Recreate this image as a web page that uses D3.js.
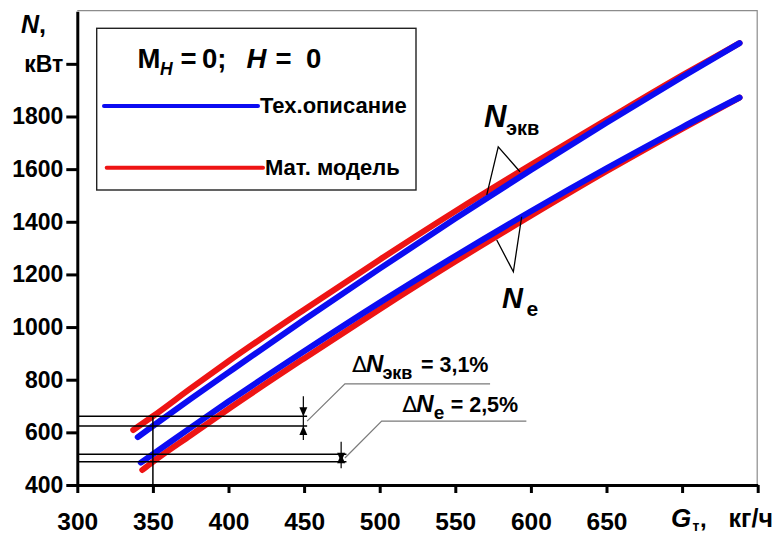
<!DOCTYPE html>
<html>
<head>
<meta charset="utf-8">
<script src="https://cdn.jsdelivr.net/npm/d3@7"></script>
<style>
  body { margin: 0; background: #fff; }
  svg { display: block; font-family: "Liberation Sans", Arial, sans-serif; font-weight: bold; }
</style>
</head>
<body>
<svg id="chart" width="774" height="533"></svg>
<script>
// Axis ticks and their labels
const xTicks = [300, 350, 400, 450, 500, 550, 600, 650, 700, 750];
const xTickLabels = ["300", "350", "400", "450", "500", "550", "600", "650", "", ""];
const yTicks = [400, 600, 800, 1000, 1200, 1400, 1600, 1800, 2000];
const yTickLabels = ["400", "600", "800", "1000", "1200", "1400", "1600", "1800", "кВт"];

// Power vs fuel flow: [G_т, кг/ч ; N, кВт]
const nEkvTech  = [[340, 582], [350, 624], [375, 727], [400, 828], [450, 1028], [500, 1222], [550, 1412], [600, 1597], [650, 1776], [700, 1950], [738, 2079]];
const nEkvModel = [[337, 609], [350, 661], [375, 767], [400, 870], [450, 1066], [500, 1256], [550, 1440], [600, 1616], [650, 1787], [700, 1956], [738, 2079]];
const nETech    = [[342, 485], [350, 517], [375, 618], [400, 717], [450, 908], [500, 1093], [550, 1270], [600, 1440], [650, 1603], [700, 1759], [738, 1872]];
const nEModel   = [[343, 457], [350, 488], [375, 589], [400, 689], [450, 881], [500, 1068], [550, 1249], [600, 1423], [650, 1592], [700, 1753], [738, 1872]];

const legendNames = ["Тех.описание", "Мат. модель"];
const seriesColors = ["#0c0cf2", "#ee1414"];

// Where the deviations are measured, and the stated deviations
const guideG = 350;
const errorTexts = [["экв", "= 3,1%"], ["e", "= 2,5%"]];

const svg = d3.select("#chart");
const x = d3.scaleLinear().domain([300, 750]).range([77.3, 757.7]);
const y = d3.scaleLinear().domain([400, 2200]).range([485, 11.2]);

// light frame on top and right
svg.append("path")
  .attr("d", `M${x(300)},${y(2200) - 0.5}H${x(750) - 0.5}V${y(400)}`)
  .attr("fill", "none").attr("stroke", "#8c8c8c").attr("stroke-width", 1.2);

// curves: model (red) under, description (blue) over
const line = d3.line().x(d => x(d[0])).y(d => y(d[1])).curve(d3.curveMonotoneX);
const curves = [
  { data: nEkvModel, color: seriesColors[1] },
  { data: nEModel, color: seriesColors[1] },
  { data: nEkvTech, color: seriesColors[0] },
  { data: nETech, color: seriesColors[0] }
];
svg.append("g").selectAll("path").data(curves).join("path")
  .attr("d", d => line(d.data))
  .attr("fill", "none")
  .attr("stroke", d => d.color)
  .attr("stroke-width", 6)
  .attr("stroke-linecap", "round")
  .attr("stroke-linejoin", "round");

// value of a series at the guide abscissa
const at = (s, g) => s.find(d => d[0] === g)[1];
const upper = [at(nEkvModel, guideG), at(nEkvTech, guideG)];
const lower = [at(nETech, guideG), at(nEModel, guideG)];

const ann = svg.append("g").attr("stroke", "#000").attr("fill", "none");
// horizontal guides
[[upper, 452], [lower, 478]].forEach(([lv, gEnd]) => {
  lv.forEach(v => {
    ann.append("line").attr("x1", x(300)).attr("x2", x(gEnd))
      .attr("y1", y(v)).attr("y2", y(v)).attr("stroke-width", 1.5);
  });
});
// vertical guide at G = 350
ann.append("line").attr("x1", x(guideG)).attr("x2", x(guideG))
  .attr("y1", y(upper[0])).attr("y2", y(400)).attr("stroke-width", 1.5);

// dimension arrows
function dimArrows(gx, lvTop, lvBot) {
  const px = x(gx), t = y(lvTop), b = y(lvBot);
  ann.append("line").attr("x1", px).attr("x2", px).attr("y1", t - 20).attr("y2", b + 14).attr("stroke-width", 1.2);
  svg.append("path").attr("d", `M${px},${t}L${px - 4},${t - 9}L${px + 4},${t - 9}Z`).attr("fill", "#000");
  svg.append("path").attr("d", `M${px},${b}L${px - 4},${b + 9}L${px + 4},${b + 9}Z`).attr("fill", "#000");
}
dimArrows(449.5, upper[0], upper[1]);
dimArrows(474.5, lower[1], lower[0]);

// leaders to the deviation captions
const leaders = [
  { from: [452, (upper[0] + upper[1]) / 2], elbow: [477, 784], end: 573 },
  { from: [477, (lower[0] + lower[1]) / 2], elbow: [501.3, 643], end: 597 }
];
leaders.forEach(l => {
  svg.append("path")
    .attr("d", `M${x(l.from[0])},${y(l.from[1])}L${x(l.elbow[0])},${y(l.elbow[1])}H${x(l.end)}`)
    .attr("fill", "none").attr("stroke", "#7a7a7a").attr("stroke-width", 1.2);
});

// deviation captions
function deltaCaption(px, base, nx, subX, subText, subSize, eqX, eqText) {
  const t = svg.append("g").attr("fill", "#000");
  t.append("text").attr("x", px).attr("y", base).attr("font-size", 22).attr("font-weight", "normal")
    .attr("font-family", "DejaVu Sans, sans-serif").text("Δ");
  t.append("text").attr("x", nx).attr("y", base).attr("font-size", 24).attr("font-style", "italic").text("N");
  t.append("text").attr("x", subX).attr("y", base + 7).attr("font-size", subSize).text(subText);
  t.append("text").attr("x", eqX).attr("y", base).attr("font-size", 21.5).text(eqText);
}
{
  const e0 = [x(leaders[0].elbow[0]), y(leaders[0].elbow[1])];
  deltaCaption(e0[0] + 7, e0[1] - 12.3, e0[0] + 21, e0[0] + 37.5, errorTexts[0][0], 18, e0[0] + 76, errorTexts[0][1]);
  const e1 = [x(leaders[1].elbow[0]), y(leaders[1].elbow[1])];
  deltaCaption(e1[0] + 20.5, e1[1] - 9.3, e1[0] + 34.5, e1[0] + 52, errorTexts[1][0], 19, e1[0] + 69, errorTexts[1][1]);
}

// curve-family labels with their leaders
function curveLabel(pts, nX, nY, nSize, sub, subX, subY, subSize) {
  svg.append("path").attr("d", `M${x(pts[0][0])},${y(pts[0][1])}L${x(pts[1][0])},${y(pts[1][1])}L${x(pts[2][0])},${y(pts[2][1])}`)
    .attr("fill", "none").attr("stroke", "#000").attr("stroke-width", 1.3);
  svg.append("text").attr("x", nX).attr("y", nY).attr("font-size", nSize).attr("font-style", "italic").text("N");
  svg.append("text").attr("x", subX).attr("y", subY).attr("font-size", subSize).text(sub);
}
curveLabel([[570.8, 1502], [578.4, 1685], [592.8, 1590]], 484, 126.7, 31, "экв", 506, 135, 20);
curveLabel([[577.4, 1331], [588.4, 1210], [593.9, 1419]], 502, 308.3, 29, "e", 526.5, 316, 21);

// axes
const yAxis = d3.axisLeft(y).tickValues(yTicks).tickFormat((d, i) => yTickLabels[i])
  .tickSize(11).tickSizeOuter(0).tickPadding(3);
const gy = svg.append("g").attr("transform", `translate(${x(300)},0)`).call(yAxis);
gy.select(".domain").attr("stroke-width", 3);
gy.selectAll(".tick line").attr("stroke-width", 3);
gy.selectAll(".tick text").attr("font-size", 23).attr("font-family", "Liberation Sans, Arial, sans-serif")
  .attr("font-weight", "bold").attr("fill", "#000");
gy.attr("font-size", null).attr("font-family", null);

const xAxis = d3.axisBottom(x).tickValues(xTicks).tickFormat((d, i) => xTickLabels[i])
  .tickSize(8).tickSizeOuter(0);
const gx = svg.append("g").attr("transform", `translate(0,${y(400)})`).call(xAxis);
gx.select(".domain").attr("stroke-width", 3);
gx.selectAll(".tick line").attr("stroke-width", 3);
gx.selectAll(".tick text").attr("font-size", 24.5).attr("font-family", "Liberation Sans, Arial, sans-serif")
  .attr("font-weight", "bold").attr("fill", "#000").attr("dy", null).attr("y", 44.5);
gx.attr("font-size", null).attr("font-family", null);

// axis titles
svg.append("text").attr("x", 21).attr("y", 33).attr("font-size", 25)
  .call(t => { t.append("tspan").attr("font-style", "italic").text("N"); t.append("tspan").text(","); });
svg.append("text").attr("x", 671).attr("y", 527).attr("font-size", 26).attr("font-style", "italic").text("G");
svg.append("text").attr("x", 692.5).attr("y", 531).attr("font-size", 14).text("т");
svg.append("text").attr("x", 700).attr("y", 527).attr("font-size", 24).text(",");
svg.append("text").attr("x", 773).attr("y", 527).attr("font-size", 25).attr("text-anchor", "end").text("кг/ч");

// legend
const lg = svg.append("g");
lg.append("rect").attr("x", 96.7).attr("y", 28.3).attr("width", 319.3).attr("height", 161.7)
  .attr("fill", "#fff").attr("stroke", "#222").attr("stroke-width", 1.4);
const title = [
  { t: "M", x: 137.5, y: 68.3, s: 27.5, it: false },
  { t: "H", x: 160, y: 75, s: 17.5, it: true },
  { t: "=", x: 180.5, y: 68.3, s: 27.5, it: false },
  { t: "0;", x: 202, y: 68.3, s: 27.5, it: false },
  { t: "H", x: 246.5, y: 68.3, s: 27.5, it: true },
  { t: "=", x: 275.5, y: 68.3, s: 27.5, it: false },
  { t: "0", x: 306, y: 68.3, s: 27.5, it: false }
];
lg.selectAll("text.title").data(title).join("text").attr("class", "title")
  .attr("x", d => d.x).attr("y", d => d.y).attr("font-size", d => d.s)
  .attr("font-style", d => d.it ? "italic" : null).text(d => d.t);
const legendRows = [{ y: 106, x1: 104, x2: 258, tx: 260 }, { y: 167.7, x1: 106.7, x2: 263, tx: 265 }];
legendRows.forEach((r, i) => {
  lg.append("line").attr("x1", r.x1).attr("x2", r.x2).attr("y1", r.y).attr("y2", r.y)
    .attr("stroke", seriesColors[i]).attr("stroke-width", 4).attr("stroke-linecap", "round");
  lg.append("text").attr("x", r.tx).attr("y", r.y + 7.2).attr("font-size", 22).text(legendNames[i]);
});
</script>
</body>
</html>
